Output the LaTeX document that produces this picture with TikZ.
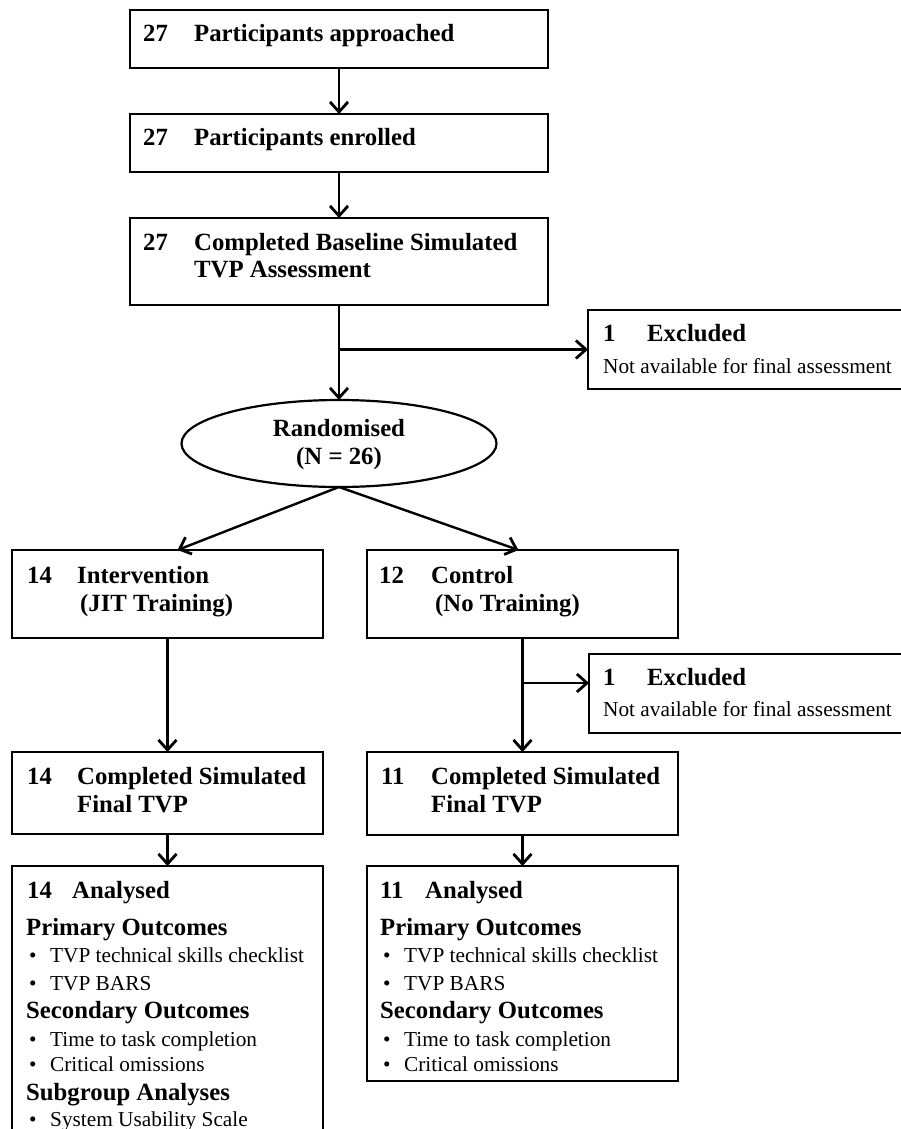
\documentclass[tikz,border=0pt]{standalone}
\usepackage{fontspec}
\setmainfont{Liberation Serif}
\usetikzlibrary{arrows.meta,shapes.geometric,calc}

\newcommand{\numlab}[3][51pt]{\makebox[#1][l]{#2}#3}

\tikzset{
  box/.style={draw,line width=2.6pt,rectangle,anchor=north west,inner sep=0pt,outer sep=0pt},
  hd/.style={anchor=base west,inner sep=0pt,font=\bfseries\fontsize{24.75}{28}\selectfont},
  tx/.style={anchor=base west,inner sep=0pt,font=\fontsize{21.3}{26}\selectfont},
  bl/.style={tx,xshift=3pt,execute at begin node={\makebox[21pt][l]{\textbullet}}},
  arr/.style={line width=2.4pt,-{Straight Barb[length=10pt,width=18pt,line width=2.8pt]}},
}

\begin{document}
\begin{tikzpicture}[x=1pt,y=-1pt]
\useasboundingbox (0,0) rectangle (901,1129);
\clip (0,0) rectangle (901,1129);

% boxes
\node[box,minimum width=418pt,minimum height=58pt] (app) at (130,10) {};
\node[box,minimum width=418pt,minimum height=58pt] (enr) at (130,114) {};
\node[box,minimum width=418pt,minimum height=87pt] (base) at (130,218) {};
\node[box,minimum width=330pt,minimum height=79pt] (exc1) at (588,310) {};
\node[draw,ellipse,line width=2.2pt,minimum width=315pt,minimum height=87pt,inner sep=0pt,outer sep=0pt] (rand) at (339,443.5) {};
\node[box,minimum width=311pt,minimum height=88pt] (int) at (12,550) {};
\node[box,minimum width=311pt,minimum height=88pt] (con) at (367,550) {};
\node[box,minimum width=330pt,minimum height=79pt] (exc2) at (589,654) {};
\node[box,minimum width=311pt,minimum height=82pt] (comp1) at (12,752) {};
\node[box,minimum width=311pt,minimum height=83pt] (comp2) at (367,752) {};
\node[box,minimum width=311pt,minimum height=290pt] (ana1) at (12,866) {};
\node[box,minimum width=311pt,minimum height=215pt] (ana2) at (367,866) {};

% texts
\node[hd] (app-t) at (143,42) {\numlab{27}{Participants approached}};
\node[hd] (enr-t) at (143,146) {\numlab{27}{Participants enrolled}};
\node[hd] (base-t1) at (143,250) {\numlab{27}{Completed Baseline Simulated}};
\node[hd] (base-t2) at (194,277) {TVP Assessment};
\node[hd] (exc1-t1) at (603,341) {\numlab[44pt]{1}{Excluded}};
\node[tx] (exc1-t2) at (603,373) {Not available for final assessment};
\node[hd,anchor=base] (rand-t1) at (339,436) {Randomised};
\node[hd,anchor=base] (rand-t2) at (339,464) {(N = 26)};
\node[hd] (int-t1) at (27,583) {\numlab[50pt]{14}{Intervention}};
\node[hd] (int-t2) at (80,611) {(JIT Training)};
\node[hd] (con-t1) at (379,583) {\numlab[52pt]{12}{Control}};
\node[hd] (con-t2) at (435,611) {(No Training)};
\node[hd] (exc2-t1) at (603,685) {\numlab[44pt]{1}{Excluded}};
\node[tx] (exc2-t2) at (603,716) {Not available for final assessment};
\node[hd] (comp1-t1) at (27,784) {\numlab[50pt]{14}{Completed Simulated}};
\node[hd] (comp1-t2) at (77,812) {Final TVP};
\node[hd] (comp2-t1) at (381,784) {\numlab[50pt]{11}{Completed Simulated}};
\node[hd] (comp2-t2) at (431,812) {Final TVP};
\node[hd] (ana1-t) at (27,898) {\numlab[45pt]{14}{Analysed}};
\node[hd] (ana2-t) at (380,898) {\numlab[45pt]{11}{Analysed}};

% outcome lists
\foreach \yy/\sty/\lbl [count=\i] in {935/hd/Primary Outcomes, 962/bl/TVP technical skills checklist, 990/bl/TVP BARS, 1018/hd/Secondary Outcomes, 1046/bl/Time to task completion, 1071/bl/Critical omissions, 1100/hd/Subgroup Analyses, 1126/bl/System Usability Scale}
  \node[\sty] (ana1-l\i) at (26,\yy) {\lbl};
\foreach \yy/\sty/\lbl [count=\i] in {935/hd/Primary Outcomes, 962/bl/TVP technical skills checklist, 990/bl/TVP BARS, 1018/hd/Secondary Outcomes, 1046/bl/Time to task completion, 1071/bl/Critical omissions}
  \node[\sty] (ana2-l\i) at (380,\yy) {\lbl};

% arrows
\draw[arr] (app) -- (enr);
\draw[arr] (enr) -- (base);
\draw[arr] (base.south) -- (rand.north);
\coordinate (br1) at (base.south |- exc1.west);
\draw[arr] (br1) -- (exc1.west);
\draw[arr] (rand.south) -- ([xshift=10pt]int.north);
\draw[arr] (rand.south) -- ([xshift=-4pt]con.north);
\draw[arr] (int) -- (comp1);
\draw[arr] (con) -- (comp2);
\coordinate (br2) at (con.south |- 0,683);
\draw[arr] (br2) -- (br2 -| exc2.west);
\draw[arr] (comp1) -- (ana1);
\draw[arr] (comp2) -- (ana2);
\end{tikzpicture}
\end{document}
